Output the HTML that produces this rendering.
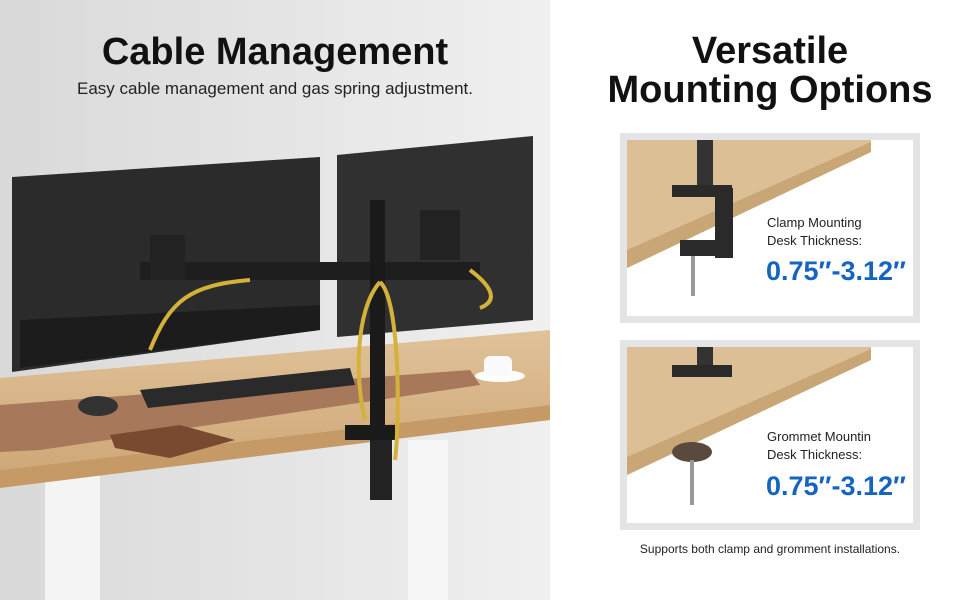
<!DOCTYPE html>
<html><head><meta charset="utf-8"><style>
body{margin:0;width:970px;height:600px;overflow:hidden;background:#fff;font-family:"Liberation Sans",sans-serif;position:relative}
.t{position:absolute;text-align:center;font-weight:bold;color:#111}
.s{position:absolute;color:#222}
.b{position:absolute;color:#1565c0;font-weight:bold;font-size:27px}
</style></head><body>
<svg width="970" height="600" style="position:absolute;left:0;top:0">
<defs>
<linearGradient id="wall" x1="0" x2="1"><stop offset="0" stop-color="#d9d9d9"/><stop offset="1" stop-color="#f0f0f0"/></linearGradient>
<linearGradient id="wood" x1="0" y1="0" x2="0" y2="1"><stop offset="0" stop-color="#e0c299"/><stop offset="1" stop-color="#cfa877"/></linearGradient>
</defs>
<rect x="0" y="0" width="550" height="600" fill="url(#wall)"/>
<rect x="45" y="460" width="55" height="140" fill="#f4f4f4"/>
<rect x="408" y="440" width="40" height="160" fill="#f6f6f6"/>
<polygon points="0,378 550,330 550,405 0,470" fill="url(#wood)"/>
<polygon points="0,470 550,405 550,420 0,488" fill="#c59a66"/>
<polygon points="0,405 470,370 480,385 40,450 0,452" fill="#a8785a"/>
<polygon points="140,390 350,368 355,385 148,408" fill="#2a2a2a"/>
<ellipse cx="98" cy="406" rx="20" ry="10" fill="#333"/>
<polygon points="110,435 180,425 235,440 170,458 115,448" fill="#7a4a30"/>
<ellipse cx="500" cy="376" rx="25" ry="6" fill="#fff"/>
<rect x="484" y="356" width="28" height="20" rx="6" fill="#fafafa"/>
<polygon points="12,177 320,157 320,330 12,372" fill="#2b2b2b"/>
<polygon points="20,320 320,305 320,330 20,368" fill="#1c1c1c"/>
<polygon points="337,155 533,136 533,320 337,337" fill="#303030"/>
<rect x="140" y="262" width="340" height="18" fill="#1e1e1e"/>
<rect x="150" y="235" width="35" height="45" fill="#222"/>
<rect x="420" y="210" width="40" height="50" fill="#222"/>
<rect x="370" y="200" width="15" height="240" fill="#1a1a1a"/>
<rect x="345" y="425" width="50" height="15" fill="#1a1a1a"/>
<rect x="370" y="440" width="22" height="60" fill="#222"/>
<path d="M150,350 C170,300 190,285 250,280 M380,282 C355,310 355,380 365,420 M380,282 C400,300 400,420 395,460 M470,270 C490,285 500,300 480,308" stroke="#d4b23a" stroke-width="4" fill="none"/>
<rect x="620" y="133" width="300" height="190" fill="#e4e4e6"/>
<rect x="627" y="140" width="286" height="176" fill="#fff"/>
<polygon points="627,140 871,140 871,152 627,268" fill="#dcbf95"/>
<polygon points="627,250 871,142 871,152 627,268" fill="#c9a676"/>
<rect x="697" y="140" width="16" height="50" fill="#333"/>
<rect x="672" y="185" width="60" height="12" fill="#2a2a2a"/>
<rect x="715" y="188" width="18" height="70" fill="#2a2a2a"/>
<rect x="680" y="240" width="50" height="16" fill="#2a2a2a"/>
<rect x="691" y="256" width="4" height="40" fill="#999"/>
<rect x="620" y="340" width="300" height="190" fill="#e4e4e6"/>
<rect x="627" y="347" width="286" height="176" fill="#fff"/>
<polygon points="627,347 871,347 871,360 627,475" fill="#dcbf95"/>
<polygon points="627,457 871,349 871,360 627,475" fill="#c9a676"/>
<rect x="697" y="347" width="16" height="20" fill="#333"/>
<rect x="672" y="365" width="60" height="12" fill="#2a2a2a"/>
<ellipse cx="692" cy="452" rx="20" ry="10" fill="#5a4a3e"/>
<rect x="690" y="460" width="4" height="45" fill="#999"/>
</svg>
<div class="t" style="left:0;width:550px;top:31px;font-size:38px">Cable Management</div>
<div class="s" style="left:0;width:550px;top:79px;font-size:17px;text-align:center">Easy cable management and gas spring adjustment.</div>
<div class="t" style="left:560px;width:420px;top:32px;font-size:38px;line-height:39px">Versatile<br>Mounting Options</div>
<div class="s" style="left:767px;top:214px;font-size:13px;line-height:18px">Clamp Mounting<br>Desk Thickness:</div>
<div class="b" style="left:766px;top:256px">0.75″-3.12″</div>
<div class="s" style="left:767px;top:428px;font-size:13px;line-height:18px">Grommet Mountin<br>Desk Thickness:</div>
<div class="b" style="left:766px;top:471px">0.75″-3.12″</div>
<div class="s" style="left:560px;width:420px;top:542px;font-size:12px;text-align:center">Supports both clamp and gromment installations.</div>
</body></html>
